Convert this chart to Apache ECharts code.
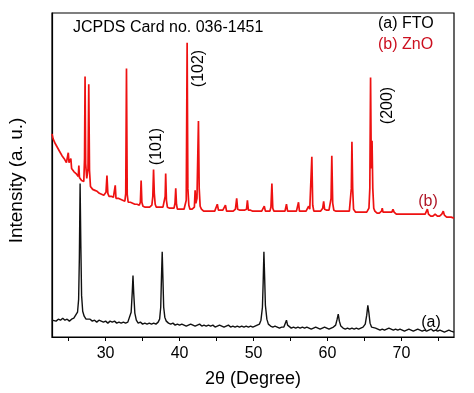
<!DOCTYPE html>
<html>
<head>
<meta charset="utf-8">
<script src="https://cdn.jsdelivr.net/npm/echarts@6/dist/echarts.min.js"></script>
<style>html,body{margin:0;padding:0;background:#fff;}#c{width:474px;height:393px;}</style>
</head>
<body>
<div id="c"></div>
<script>
// X ticks and labels (2θ, degrees)
const tickValues = [25, 30, 35, 40, 45, 50, 55, 60, 65, 70, 75];
const labelValues = [30, 40, 50, 60, 70];

// (a) FTO pattern: [2θ, intensity (a.u.)]
const ftoPoints = [
[22.75,17],[23.0,18],[23.3,16],[23.6,18],[23.9,17],[24.2,19],[24.5,17],[24.8,18],[25.1,16],[25.4,18],
[25.7,19],[25.95,21],[26.2,25],[26.35,38],[26.45,80],[26.55,155],[26.65,92],[26.75,42],[26.9,26],[27.1,21],
[27.35,18],[27.6,17],[27.9,18],[28.2,16],[28.5,17],[28.8,15],[29.1,17],[29.4,16],[29.7,15],[30.0,16],
[30.3,14],[30.6,16],[30.9,15],[31.2,16],[31.5,14],[31.8,15],[32.1,14],[32.4,15],[32.7,14],[33.0,15],
[33.25,17],[33.45,25],[33.6,45],[33.7,62],[33.8,44],[33.95,24],[34.15,17],[34.4,14],[34.7,15],[35.0,13],
[35.3,14],[35.6,13],[35.9,14],[36.2,13],[36.5,14],[36.8,13],[37.1,15],[37.3,18],[37.45,30],[37.55,60],
[37.65,86],[37.75,58],[37.85,30],[38.0,20],[38.2,16],[38.5,14],[38.8,13],[39.1,14],[39.4,12],[39.7,13],
[40.0,12],[40.3,13],[40.6,12],[40.9,11],[41.2,12],[41.5,13],[41.8,12],[42.1,11],[42.4,12],[42.7,13],
[43.0,11],[43.3,12],[43.6,11],[43.9,12],[44.2,11],[44.5,12],[44.8,10],[45.1,11],[45.4,12],[45.7,11],
[46.0,10],[46.3,11],[46.6,12],[46.9,10],[47.2,11],[47.5,10],[47.8,11],[48.1,10],[48.4,11],[48.7,10],
[49.0,11],[49.3,10],[49.6,11],[49.9,10],[50.2,11],[50.5,12],[50.8,13],[51.0,17],[51.2,30],[51.3,55],
[51.4,86],[51.5,60],[51.6,32],[51.8,18],[52.0,13],[52.3,11],[52.6,10],[52.9,11],[53.2,10],[53.5,9],
[53.8,10],[54.1,10],[54.3,12],[54.45,17],[54.6,12],[54.8,10],[55.1,9],[55.4,10],[55.7,9],[56.0,10],
[56.3,9],[56.6,10],[56.9,9],[57.2,10],[57.5,9],[57.8,8],[58.1,9],[58.4,10],[58.7,9],[59.0,8],
[59.3,9],[59.6,10],[59.9,9],[60.2,8],[60.5,9],[60.8,10],[61.1,12],[61.3,18],[61.45,23],[61.6,16],
[61.8,11],[62.1,9],[62.4,8],[62.7,9],[63.0,8],[63.3,9],[63.6,8],[63.9,9],[64.2,8],[64.5,9],
[64.8,10],[65.1,13],[65.3,22],[65.45,32],[65.6,24],[65.75,14],[65.95,10],[66.2,8],[66.5,9],[66.8,8],
[67.1,7],[67.4,8],[67.7,7],[68.0,8],[68.3,9],[68.6,8],[68.9,7],[69.2,8],[69.5,7],[69.8,8],
[70.1,7],[70.4,6],[70.7,7],[71.0,8],[71.3,7],[71.6,6],[71.9,7],[72.2,8],[72.5,7],[72.8,6],
[73.1,7],[73.4,6],[73.7,7],[74.0,8],[74.3,6],[74.6,7],[74.9,6],[75.2,7],[75.5,6],[75.8,5],
[76.1,6],[76.4,7],[76.7,6],[77.1,5]
];

// (b) ZnO pattern: [2θ, intensity (a.u.)] (offset trace)
const znoPoints = [
[22.75,205],[22.9,200],[23.05,202],[23.2,195],[23.35,197],[23.5,191],[23.65,193],[23.8,187],[23.95,189],[24.1,183],
[24.25,185],[24.4,180],[24.55,181],[24.7,176],[24.85,178],[24.95,186],[25.05,176],[25.2,174],[25.3,180],[25.4,170],
[25.55,171],[25.7,167],[25.85,169],[26.0,165],[26.15,166],[26.3,162],[26.38,173],[26.46,161],[26.6,160],[26.75,158],
[26.9,159],[27.05,157],[27.15,180],[27.22,263],[27.3,175],[27.45,160],[27.62,170],[27.72,255],[27.82,168],[27.95,152],
[28.1,151],[28.25,149],[28.4,151],[28.55,148],[28.7,149],[28.85,147],[29.0,148],[29.15,145],[29.3,147],[29.45,144],
[29.6,145],[29.75,143],[29.9,144],[30.05,146],[30.18,163],[30.3,145],[30.45,142],[30.6,141],[30.75,142],[30.9,140],
[31.05,141],[31.2,142],[31.3,153],[31.4,140],[31.55,139],[31.7,140],[31.85,138],[32.0,139],[32.15,137],[32.3,138],
[32.45,136],[32.6,137],[32.72,145],[32.82,271],[32.92,144],[33.05,136],[33.2,135],[33.35,136],[33.5,134],[33.65,135],
[33.8,133],[33.95,134],[34.1,133],[34.25,134],[34.4,132],[34.55,133],[34.7,136],[34.8,158],[34.9,136],[35.05,132],
[35.2,133],[35.35,131],[35.5,132],[35.65,131],[35.8,132],[35.95,131],[36.1,132],[36.25,133],[36.38,142],[36.48,169],
[36.58,145],[36.7,134],[36.85,131],[37.0,130],[37.15,131],[37.3,130],[37.45,131],[37.6,130],[37.75,131],[37.9,132],
[38.05,142],[38.12,165],[38.22,138],[38.35,131],[38.5,129],[38.65,130],[38.8,129],[38.95,130],[39.1,129],[39.25,130],
[39.38,135],[39.48,150],[39.58,134],[39.7,129],[39.85,128],[40.0,129],[40.15,128],[40.3,129],[40.45,128],[40.6,129],
[40.75,130],[40.9,138],[41.02,297],[41.12,150],[41.25,133],[41.4,129],[41.55,128],[41.7,129],[41.85,128],[42.0,131],
[42.1,148],[42.2,135],[42.35,140],[42.55,218],[42.65,150],[42.78,132],[42.95,129],[43.1,128],[43.25,127],[43.4,128],
[43.55,127],[43.7,128],[43.85,127],[44.0,128],[44.15,127],[44.3,128],[44.45,127],[44.6,128],[44.75,127],[44.9,128],
[45.1,134],[45.25,128],[45.4,127],[45.55,128],[45.7,127],[45.85,128],[46.0,127],[46.2,133],[46.35,127],[46.5,128],
[46.65,127],[46.8,128],[46.95,127],[47.1,128],[47.25,127],[47.4,128],[47.55,129],[47.72,140],[47.85,129],[48.0,127],
[48.15,128],[48.3,127],[48.45,128],[48.6,127],[48.75,128],[48.9,127],[49.05,129],[49.17,138],[49.3,128],[49.45,127],
[49.6,128],[49.75,126],[49.9,127],[50.05,128],[50.2,127],[50.35,126],[50.5,127],[50.65,128],[50.8,127],[50.95,126],
[51.1,127],[51.25,128],[51.45,132],[51.6,127],[51.75,126],[51.9,127],[52.05,126],[52.2,127],[52.35,131],[52.48,155],
[52.6,130],[52.75,127],[52.9,126],[53.05,127],[53.2,126],[53.35,127],[53.5,126],[53.65,127],[53.8,126],[53.95,127],
[54.1,126],[54.25,127],[54.45,134],[54.6,127],[54.75,126],[54.9,127],[55.05,126],[55.2,127],[55.35,126],[55.5,127],
[55.65,126],[55.8,127],[55.95,128],[56.08,136],[56.2,127],[56.35,126],[56.5,127],[56.65,126],[56.8,127],[56.95,126],
[57.1,127],[57.25,128],[57.45,132],[57.6,129],[57.75,131],[57.88,182],[58.0,133],[58.15,127],[58.3,126],[58.45,127],
[58.6,126],[58.75,127],[58.9,126],[59.05,127],[59.2,128],[59.35,130],[59.48,137],[59.6,129],[59.75,127],[59.9,128],
[60.05,127],[60.2,128],[60.35,130],[60.48,140],[60.58,183],[60.7,135],[60.85,128],[61.0,126],[61.15,127],[61.3,126],
[61.45,127],[61.6,126],[61.75,127],[61.9,126],[62.05,127],[62.2,126],[62.35,127],[62.5,126],[62.65,127],[62.8,126],
[62.95,127],[63.1,129],[63.22,150],[63.3,197],[63.4,150],[63.52,129],[63.65,127],[63.8,126],[63.95,127],[64.1,126],
[64.25,127],[64.4,126],[64.55,125],[64.7,126],[64.85,125],[65.0,126],[65.15,125],[65.3,126],[65.45,127],[65.6,130],
[65.72,150],[65.82,262],[65.92,170],[66.02,198],[66.12,150],[66.25,130],[66.4,127],[66.55,126],[66.7,125],[66.85,126],
[67.0,125],[67.15,126],[67.3,127],[67.4,130],[67.5,126],[67.65,125],[67.8,126],[67.95,125],[68.1,126],[68.25,125],
[68.4,126],[68.55,125],[68.7,126],[68.85,129],[69.0,126],[69.15,125],[69.3,124],[69.45,125],[69.6,124],[69.75,125],
[69.9,124],[70.05,125],[70.2,124],[70.35,125],[70.5,124],[70.65,123],[70.8,124],[70.95,125],[71.1,124],[71.25,123],
[71.4,124],[71.55,125],[71.7,124],[71.85,123],[72.0,124],[72.15,123],[72.3,124],[72.45,125],[72.6,124],[72.75,123],
[72.9,124],[73.05,123],[73.2,124],[73.35,125],[73.5,129],[73.65,124],[73.8,123],[73.95,122],[74.1,123],[74.25,122],
[74.4,123],[74.55,124],[74.7,123],[74.85,122],[75.0,123],[75.15,122],[75.3,123],[75.45,124],[75.65,127],[75.8,123],
[75.95,122],[76.1,121],[76.25,122],[76.4,121],[76.55,122],[76.7,121],[76.85,122],[77.1,120]
];

const FONT = 'Arial, "Liberation Sans", sans-serif';
const chart = echarts.init(document.getElementById('c'), null, {renderer: 'canvas'});

function rotText(x, y, text, color) {
  return {type: 'text', x: x, y: y, rotation: Math.PI / 2,
    style: {text: text, fill: color, font: '16px ' + FONT, align: 'center', verticalAlign: 'middle'}};
}
function plainText(x, y, text, color, size, align) {
  return {type: 'text', x: x, y: y,
    style: {text: text, fill: color, font: size + 'px ' + FONT, align: align || 'left', verticalAlign: 'middle'}};
}

chart.setOption({
  animation: false,
  backgroundColor: '#fff',
  grid: {left: 52, right: 20, top: 13, bottom: 53, show: true, borderColor: '#000', borderWidth: 1.2, containLabel: false},
  xAxis: {
    type: 'value', min: 22.75, max: 77.1,
    axisLine: {show: true, lineStyle: {color: '#000', width: 1.2}},
    axisTick: {show: true, inside: false, length: 4, lineStyle: {color: '#000', width: 1}, customValues: tickValues},
    axisLabel: {show: true, color: '#000', fontSize: 16, fontFamily: FONT, margin: 9, customValues: labelValues},
    splitLine: {show: false},
    name: '2θ (Degree)', nameLocation: 'middle', nameGap: 33,
    nameTextStyle: {color: '#000', fontSize: 18, fontFamily: FONT}
  },
  yAxis: {
    type: 'value', min: 0, max: 327,
    axisLine: {show: true, lineStyle: {color: '#000', width: 1.2}},
    axisTick: {show: false}, axisLabel: {show: false}, splitLine: {show: false}
  },
  series: [
    {name: '(a) FTO', type: 'line', data: ftoPoints, symbol: 'none', z: 2,
     lineStyle: {color: '#111', width: 1.4}},
    {name: '(b) ZnO', type: 'line', data: znoPoints, symbol: 'none', z: 3,
     lineStyle: {color: '#ee1111', width: 1.7}}
  ],
  graphic: [
    plainText(73, 28, 'JCPDS Card no. 036-1451', '#000', 16),
    plainText(378, 24, '(a) FTO', '#000', 16),
    plainText(378, 44.5, '(b) ZnO', '#cc1020', 16),
    rotText(199, 68.5, '(102)', '#000'),
    rotText(157, 146.5, '(101)', '#000'),
    rotText(387.5, 105.5, '(200)', '#000'),
    plainText(428, 202, '(b)', '#b01828', 16, 'center'),
    plainText(431, 323, '(a)', '#000', 16, 'center'),
    {type: 'text', x: 17, y: 180.5, rotation: Math.PI / 2,
     style: {text: 'Intensity (a. u.)', fill: '#000', font: '19px ' + FONT, align: 'center', verticalAlign: 'middle'}}
  ]
});
</script>
</body>
</html>
